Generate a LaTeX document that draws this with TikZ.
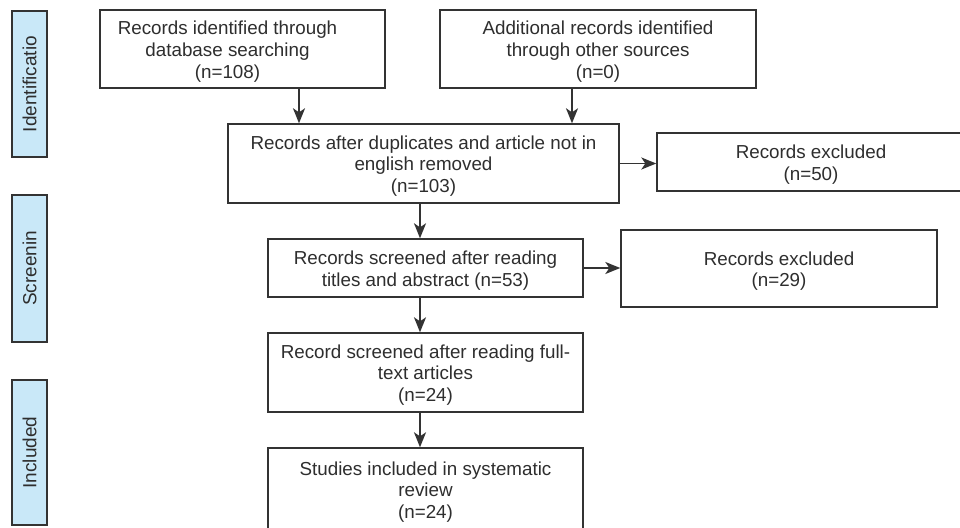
\documentclass[tikz,border=0pt]{standalone}
\usepackage{fontspec}
\setmainfont{Liberation Sans}
\usetikzlibrary{arrows.meta}
\definecolor{edge}{HTML}{333333}
\definecolor{txt}{HTML}{2E2E2E}
\definecolor{sidefill}{HTML}{C9E8F8}
\begin{document}
\begin{tikzpicture}[x=1pt,y=-1pt,
  box/.style={draw=edge, line width=1.4pt, fill=white, inner sep=0pt},
  lbl/.style={align=center, inner sep=0pt, text=txt, font=\fontsize{18.8}{21.7}\selectfont, yshift=-2.5pt},
  sidebox/.style={draw=edge, line width=1.4pt, fill=sidefill, inner sep=0pt, minimum width=35pt},
  sidetxt/.style={rotate=90, text=txt, font=\fontsize{19}{22}\selectfont},
  arr/.style={draw=edge, line width=1.6pt, -{Stealth[length=15pt,width=12pt,inset=4pt]}}]
\useasboundingbox (0,0) rectangle (960,527);
\clip (0,0) rectangle (960,527);
\fill[white] (0,0) rectangle (960,527);
% side labels
\node[sidebox, minimum height=146pt] (sid) at (29.5,84) {};
\node[sidetxt] (tid) at (sid.center) {Identificatio};
\node[sidebox, minimum height=147pt] (sscr) at (29.5,268.5) {};
\node[sidetxt] (tscr) at (sscr.center) {Screenin};
\node[sidebox, minimum height=145pt] (sinc) at (29.5,452.5) {};
\node[sidetxt] (tinc) at (sinc.center) {Included};
% main boxes
\node[box, minimum width=285pt, minimum height=78pt] (b1) at (242.5,49) {};
\node[lbl, xshift=-15pt] (t1) at (b1.center) {Records identified through\\database searching\\(n=108)};
\node[box, minimum width=316pt, minimum height=78pt] (b2) at (598,49) {};
\node[lbl] (t2) at (b2.center) {Additional records identified\\through other sources\\(n=0)};
\node[box, minimum width=391pt, minimum height=79pt] (b3) at (423.5,163.5) {};
\node[lbl] (t3) at (b3.center) {Records after duplicates and article not in\\english removed\\(n=103)};
\node[box, minimum width=308pt, minimum height=58pt] (e1) at (811,162) {};
\node[lbl] (te1) at (e1.center) {Records excluded\\(n=50)};
\node[box, minimum width=315pt, minimum height=58pt] (b4) at (425.5,268) {};
\node[lbl] (t4) at (b4.center) {Records screened after reading\\titles and abstract (n=53)};
\node[box, minimum width=316pt, minimum height=77pt] (e2) at (779,268.5) {};
\node[lbl] (te2) at (e2.center) {Records excluded\\(n=29)};
\node[box, minimum width=315pt, minimum height=79pt] (b5) at (425.5,372.5) {};
\node[lbl] (t5) at (b5.center) {Record screened after reading full-\\text articles\\(n=24)};
\node[box, minimum width=315pt, minimum height=84pt] (b6) at (425.5,490) {};
\node[lbl, yshift=0.5pt] (t6) at (b6.center) {Studies included in systematic\\review\\(n=24)};
% arrows
\coordinate (c1) at (299,0);
\coordinate (c2) at (572,0);
\coordinate (c3) at (420,0);
\draw[arr] (b1.south -| c1) -- (b3.north -| c1);
\draw[arr] (b2.south -| c2) -- (b3.north -| c2);
\draw[arr] (b3.east) -- (e1.west |- b3.east);
\draw[arr] (b3.south -| c3) -- (b4.north -| c3);
\draw[arr] (b4.east) -- (e2.west |- b4.east);
\draw[arr] (b4.south -| c3) -- (b5.north -| c3);
\draw[arr] (b5.south -| c3) -- (b6.north -| c3);
\end{tikzpicture}
\end{document}
